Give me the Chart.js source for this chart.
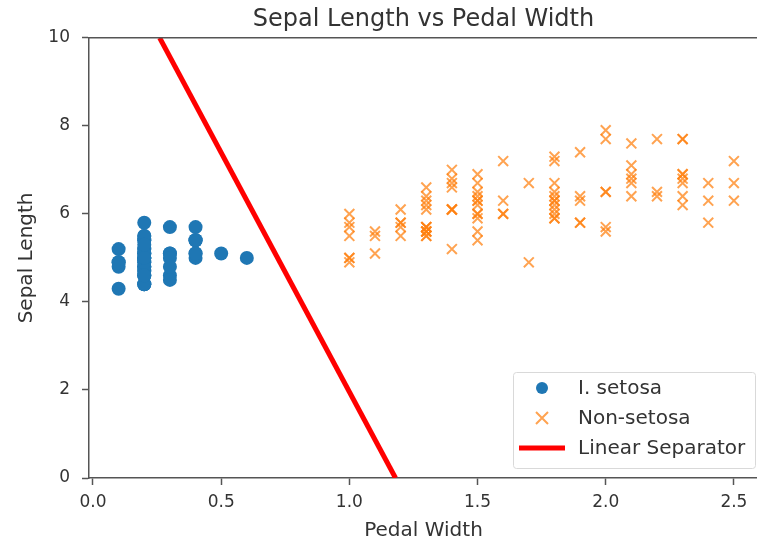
<!DOCTYPE html>
<html>
<head>
<meta charset="utf-8">
<script src="https://cdn.jsdelivr.net/npm/chart.js@4.4.0/dist/chart.umd.min.js"></script>
<style>
  html, body { margin: 0; padding: 0; background: #fff; overflow: hidden; }
  #wrap { width: 757px; height: 543px; overflow: hidden; }
</style>
</head>
<body>
<div id="wrap"><canvas id="myChart" width="767" height="543"></canvas></div>
<script>
// setosa: petal width / sepal length
const setosaX = [0.2,0.2,0.2,0.2,0.2,0.4,0.3,0.2,0.2,0.1,0.2,0.2,0.1,0.1,0.2,0.4,0.4,0.3,0.3,0.3,
                 0.2,0.4,0.2,0.5,0.2,0.2,0.4,0.2,0.2,0.2,0.2,0.4,0.1,0.2,0.2,0.2,0.2,0.1,0.2,0.2,
                 0.3,0.3,0.2,0.6,0.4,0.3,0.2,0.2,0.2,0.2]
const setosaY = [5.1,4.9,4.7,4.6,5.0,5.4,4.6,5.0,4.4,4.9,5.4,4.8,4.8,4.3,5.8,5.7,5.4,5.1,5.7,5.1,
                 5.4,5.1,4.6,5.1,4.8,5.0,5.0,5.2,5.2,4.7,4.8,5.4,5.2,5.5,4.9,5.0,5.5,4.9,4.4,5.1,
                 5.0,4.5,4.4,5.0,5.1,4.8,5.1,4.6,5.3,5.0]
// non-setosa
const otherX = [1.4,1.5,1.5,1.3,1.5,1.3,1.6,1.0,1.3,1.4,1.0,1.5,1.0,1.4,1.3,1.4,1.5,1.0,1.5,1.1,
                1.8,1.3,1.5,1.2,1.3,1.4,1.4,1.7,1.5,1.0,1.1,1.0,1.2,1.6,1.5,1.6,1.5,1.3,1.3,1.3,
                1.2,1.4,1.2,1.0,1.3,1.2,1.3,1.3,1.1,1.3,
                2.5,1.9,2.1,1.8,2.2,2.1,1.7,1.8,1.8,2.5,2.0,1.9,2.1,2.0,2.4,2.3,1.8,2.2,2.3,1.5,
                2.3,2.0,2.0,1.8,2.1,1.8,1.8,1.8,2.1,1.6,1.9,2.0,2.2,1.5,1.4,2.3,2.4,1.8,1.8,2.1,
                2.4,2.3,1.9,2.3,2.5,2.3,1.9,2.0,2.3,1.8]
const otherY = [7.0,6.4,6.9,5.5,6.5,5.7,6.3,4.9,6.6,5.2,5.0,5.9,6.0,6.1,5.6,6.7,5.6,5.8,6.2,5.6,
                5.9,6.1,6.3,6.1,6.4,6.6,6.8,6.7,6.0,5.7,5.5,5.5,5.8,6.0,5.4,6.0,6.7,6.3,5.6,5.5,
                5.5,6.1,5.8,5.0,5.6,5.7,5.7,6.2,5.1,5.7,
                6.3,5.8,7.1,6.3,6.5,7.6,4.9,7.3,6.7,7.2,6.5,6.4,6.8,5.7,5.8,6.4,6.5,7.7,7.7,6.0,
                6.9,5.6,7.7,6.3,6.7,7.2,6.2,6.1,6.4,7.2,7.4,7.9,6.4,6.3,6.1,7.7,6.3,6.4,6.0,6.9,
                6.7,6.9,5.8,6.8,6.7,6.7,6.3,6.5,6.2,5.9]
// separator line end points
const sepX = [0.26, 1.18]
const sepY = [10, 0]

const xTicks = [0, 0.5, 1.0, 1.5, 2.0, 2.5]
const yTicks = [0, 2, 4, 6, 8, 10]
const labels = ['I. setosa', 'Non-setosa', 'Linear Separator']

const pts = (xs, ys) => xs.map((x, i) => ({x: x, y: ys[i]}))

const blue = '#1f77b4'
const orange = 'rgba(255,127,14,0.72)'
const font = 'DejaVu Sans'
const textCol = '#333'
const spine = '#555'
const viewW = 757 // visible width of the picture, the axes run past it

// top spine (right one is cut off by the picture) + legend inside the axes
const extras = {
  id: 'extras',
  afterDraw(chart) {
    const c = chart.ctx, a = chart.chartArea
    c.save()
    c.strokeStyle = spine
    c.lineWidth = 1.5
    c.beginPath(); c.moveTo(a.left, a.top); c.lineTo(a.right, a.top); c.stroke()

    const w = 242, h = 96
    const bx = Math.min(a.right, viewW) - w - 2, by = a.bottom - h - 10
    c.fillStyle = 'rgba(255,255,255,0.85)'
    c.strokeStyle = '#d9d9d9'
    c.lineWidth = 1
    c.beginPath()
    c.roundRect(bx + 0.5, by + 0.5, w, h, 3)
    c.fill(); c.stroke()

    const ds = chart.data.datasets
    c.font = '20px "' + font + '"'
    c.textBaseline = 'middle'
    ds.forEach((d, i) => {
      const yy = by + 16 + i * 30
      const mx = bx + 29
      if (i === 0) {
        c.fillStyle = d.backgroundColor
        c.beginPath(); c.arc(mx, yy, 6, 0, Math.PI * 2); c.fill()
      } else if (i === 1) {
        c.strokeStyle = d.borderColor; c.lineWidth = 2
        c.beginPath()
        c.moveTo(mx - 6, yy - 6); c.lineTo(mx + 6, yy + 6)
        c.moveTo(mx + 6, yy - 6); c.lineTo(mx - 6, yy + 6)
        c.stroke()
      } else {
        c.strokeStyle = d.borderColor; c.lineWidth = 5
        c.beginPath(); c.moveTo(bx + 6, yy); c.lineTo(bx + 52, yy); c.stroke()
      }
      c.fillStyle = textCol
      c.fillText(d.label, bx + 65, yy + 1)
    })
    c.restore()
  }
}

const ctx = document.getElementById('myChart')
const grafico = new Chart(ctx, {
  type: 'scatter',
  data: {
    datasets: [
      { label: labels[0], data: pts(setosaX, setosaY), pointStyle: 'circle', pointRadius: 7,
        backgroundColor: blue, borderColor: blue, borderWidth: 0 },
      { label: labels[1], data: pts(otherX, otherY), pointStyle: 'crossRot', pointRadius: 7,
        backgroundColor: orange, borderColor: orange, borderWidth: 2 },
      { label: labels[2], data: pts(sepX, sepY), showLine: true, pointRadius: 0,
        borderColor: '#ff0000', backgroundColor: '#ff0000', borderWidth: 5 }
    ]
  },
  options: {
    responsive: false,
    animation: false,
    layout: { padding: 0 },
    plugins: {
      legend: { display: false },
      tooltip: { enabled: false },
      title: {
        display: true, text: 'Sepal Length vs Pedal Width', fullSize: false,
        color: textCol, font: { family: font, size: 24, weight: 'normal' },
        padding: { top: 5, bottom: 4 }
      }
    },
    scales: {
      x: {
        type: 'linear', min: -0.0156, max: 2.594,
        afterBuildTicks: s => { s.ticks = xTicks.map(v => ({value: v})) },
        afterFit: s => { s.height = 65 },
        ticks: { color: textCol, font: { family: font, size: 17 }, padding: 7,
                 maxRotation: 0, callback: v => v.toFixed(1) },
        grid: { drawOnChartArea: false, drawTicks: true, tickLength: 7, color: spine, tickWidth: 1.5 },
        border: { display: true, color: spine, width: 1.5 },
        title: { display: true, text: 'Pedal Width', color: textCol,
                 font: { family: font, size: 20 }, padding: { top: 0, bottom: 0 } }
      },
      y: {
        type: 'linear', min: 0, max: 10,
        afterBuildTicks: s => { s.ticks = yTicks.map(v => ({value: v})) },
        afterFit: s => { s.width = 89 },
        ticks: { color: textCol, font: { family: font, size: 17 }, padding: 12 },
        grid: { drawOnChartArea: false, drawTicks: true, tickLength: 7, color: spine, tickWidth: 1.5 },
        border: { display: true, color: spine, width: 1.5 },
        title: { display: true, text: 'Sepal Length', color: textCol,
                 font: { family: font, size: 20 }, padding: { top: 15 } }
      }
    }
  },
  plugins: [extras]
})
</script>
</body>
</html>
